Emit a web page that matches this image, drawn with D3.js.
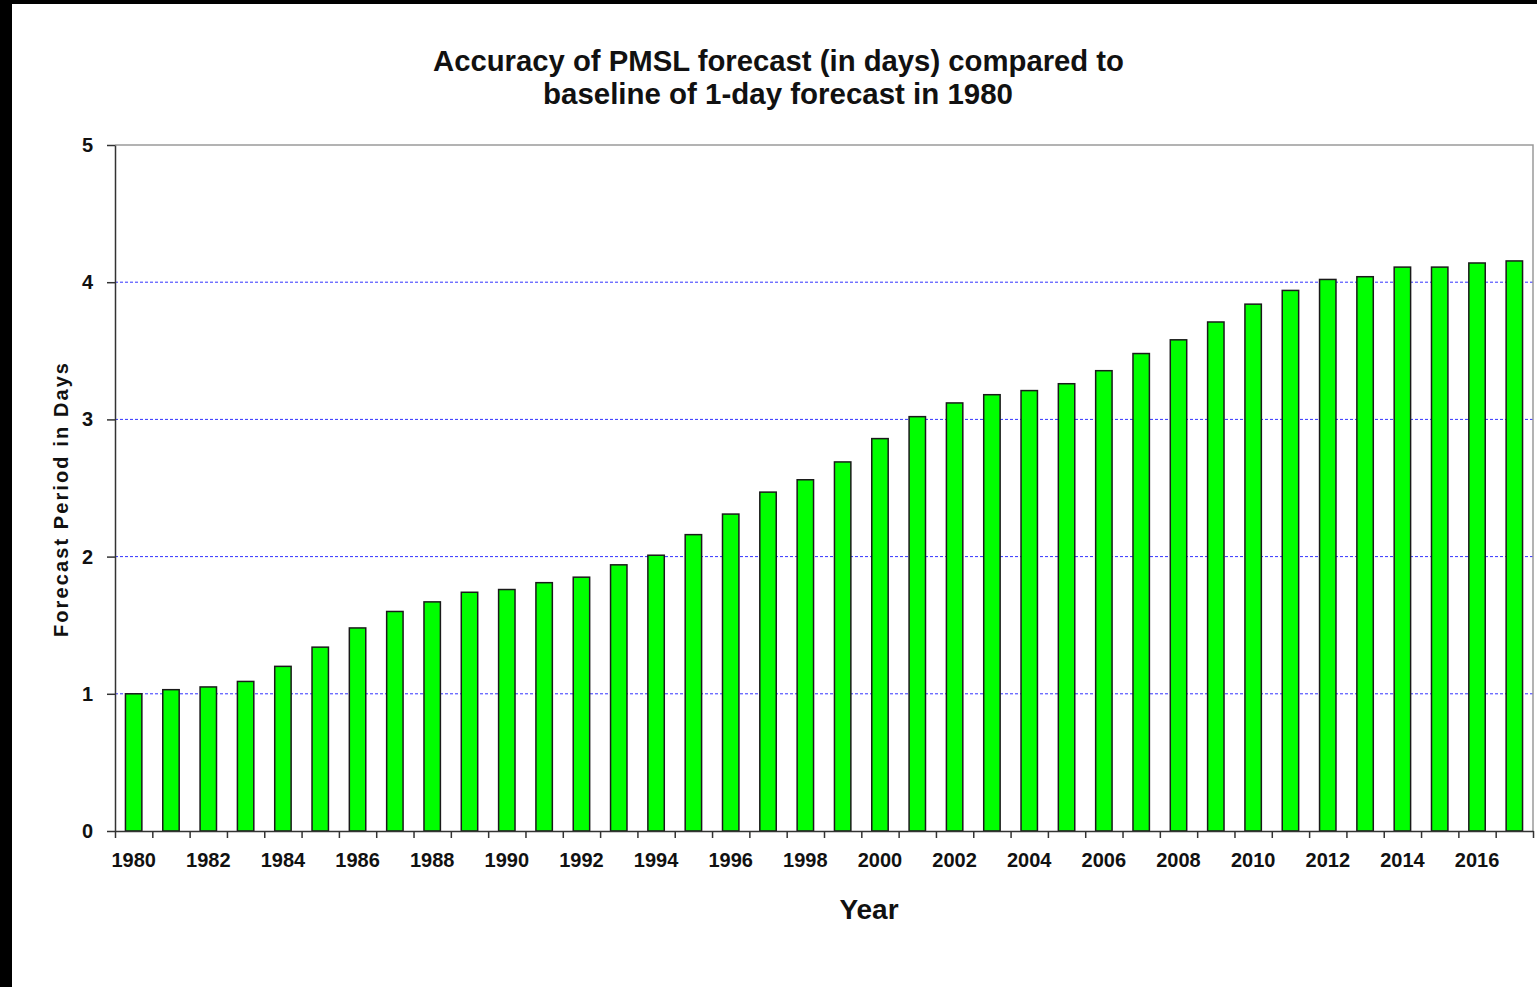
<!DOCTYPE html>
<html>
<head>
<meta charset="utf-8">
<script src="https://cdn.jsdelivr.net/npm/d3@7"></script>
<style>
  html, body { margin: 0; padding: 0; background: #000; }
  #chart { width: 1537px; height: 987px; }
  svg { display: block; }
  .tickLabel text, .yAxis text { font-family: "Liberation Sans", Arial, sans-serif; font-weight: bold; fill: #111; }
</style>
</head>
<body>
<div id="chart"></div>
<script>
// forecast period (days) per year
const years = d3.range(1980, 2018);
const forecastDays = [
  1.00, 1.03, 1.05, 1.09, 1.20, 1.34, 1.48, 1.60, 1.67, 1.74,
  1.76, 1.81, 1.85, 1.94, 2.01, 2.16, 2.31, 2.47, 2.56, 2.69,
  2.86, 3.02, 3.12, 3.18, 3.21, 3.26, 3.355, 3.48, 3.58, 3.71,
  3.84, 3.94, 4.02, 4.04, 4.11, 4.11, 4.14, 4.155
];
const yTicks = [0, 1, 2, 3, 4, 5];
const gridTicks = [1, 2, 3, 4];
const labelYears = years.filter(y => y % 2 === 0);

const titleLines = [
  "Accuracy of PMSL forecast (in days) compared to",
  "baseline of 1-day forecast in 1980"
];

/*************************
***** SET DIMENSIONS *****
*************************/
const width = 1537, height = 987;
const plot = {left: 115, right: 1533, top: 145, bottom: 831};

const svg = d3.select("#chart").append("svg")
    .attr("width", width)
    .attr("height", height);

// white page inside the black frame (left and top edges only)
svg.append("rect")
    .attr("x", 12).attr("y", 4)
    .attr("width", width - 12).attr("height", height - 4)
    .attr("fill", "#fff");

/*****************
***** SCALES *****
*****************/
const pad = 0.56;
const x = d3.scaleBand()
    .domain(years)
    .range([plot.left, plot.right])
    .paddingInner(pad)
    .paddingOuter(pad / 2);

const y = d3.scaleLinear()
    .domain([0, 5])
    .range([plot.bottom, plot.top]);

// boundary scale for the little ticks between categories
const xEdge = d3.scaleLinear()
    .domain([0, years.length])
    .range([plot.left, plot.right]);

/*******************
***** GRIDLINES ****
*******************/
svg.append("g")
    .attr("class", "yGrid")
    .selectAll("line")
    .data(gridTicks)
    .join("line")
    .attr("x1", plot.left).attr("x2", plot.right)
    .attr("y1", d => y(d)).attr("y2", d => y(d))
    .attr("stroke", "#3333ff")
    .attr("stroke-width", 1)
    .attr("stroke-dasharray", "3,2");

// frame: top and right in grey
svg.append("path")
    .attr("d", `M${plot.left},${plot.top}H${plot.right}V${plot.bottom}`)
    .attr("fill", "none")
    .attr("stroke", "#9a9a9a")
    .attr("stroke-width", 1.5);

/***************
***** BARS *****
***************/
svg.append("g")
    .attr("id", "plot")
    .selectAll("rect")
    .data(years.map((yr, i) => ({year: yr, value: forecastDays[i]})))
    .join("rect")
    .attr("x", d => x(d.year))
    .attr("width", x.bandwidth())
    .attr("y", d => y(d.value))
    .attr("height", d => y(0) - y(d.value))
    .attr("fill", "#00ff00")
    .attr("stroke", "#1a1a1a")
    .attr("stroke-width", 1.5);

/***************
***** AXES *****
***************/
const yAxis = svg.append("g")
    .attr("class", "yAxis")
    .attr("transform", `translate(${plot.left},0)`)
    .call(d3.axisLeft(y).tickValues(yTicks).tickFormat(d3.format("d"))
        .tickSize(8).tickPadding(14).tickSizeOuter(0));
yAxis.select(".domain").attr("stroke", "#333").attr("stroke-width", 1.5);
yAxis.selectAll(".tick line").attr("stroke", "#333").attr("stroke-width", 1.5);
yAxis.selectAll("text").style("font-size", "20px");

// x-axis ticks sit on category edges
const xTicks = svg.append("g")
    .attr("class", "xAxis")
    .attr("transform", `translate(0,${plot.bottom})`)
    .call(d3.axisBottom(xEdge).tickValues(d3.range(years.length + 1)).tickFormat("").tickSize(7).tickSizeOuter(0));
xTicks.select(".domain").attr("stroke", "#333").attr("stroke-width", 1.5);
xTicks.selectAll(".tick line").attr("stroke", "#333").attr("stroke-width", 1.5);

// year labels centred in bands
const xLabels = svg.append("g")
    .attr("class", "tickLabel")
    .attr("transform", `translate(0,${plot.bottom})`)
    .call(d3.axisBottom(x).tickValues(labelYears).tickSize(0).tickPadding(22));
xLabels.select(".domain").remove();
xLabels.selectAll("text").style("font-size", "20px");

/*****************************
***** TITLE & AXIS LABELS ****
*****************************/
const titleFont = "'Liberation Sans Narrow', 'Liberation Sans', Arial, sans-serif";
const titleSpans = [
  {text: titleLines[0], x: 433, y: 71, len: 691},
  {text: titleLines[1], x: 543, y: 104, len: 470}
];
svg.append("g").attr("id", "header")
    .selectAll("text")
    .data(titleSpans)
    .join("text")
    .attr("x", d => d.x)
    .attr("y", d => d.y)
    .attr("textLength", d => d.len)
    .attr("lengthAdjust", "spacingAndGlyphs")
    .style("font-family", titleFont)
    .style("font-weight", "bold")
    .style("font-size", "29px")
    .attr("fill", "#111")
    .text(d => d.text);

svg.append("text")
    .attr("transform", "translate(68,500) rotate(-90)")
    .attr("text-anchor", "middle")
    .attr("textLength", 274)
    .attr("lengthAdjust", "spacing")
    .style("font-family", "'Liberation Sans', Arial, sans-serif")
    .style("font-weight", "bold")
    .style("font-size", "20px")
    .attr("fill", "#111")
    .text("Forecast Period in Days");

svg.append("text")
    .attr("x", 869)
    .attr("y", 919)
    .attr("text-anchor", "middle")
    .style("font-family", "'Liberation Sans', Arial, sans-serif")
    .style("font-weight", "bold")
    .style("font-size", "28px")
    .attr("fill", "#111")
    .text("Year");
</script>
</body>
</html>
